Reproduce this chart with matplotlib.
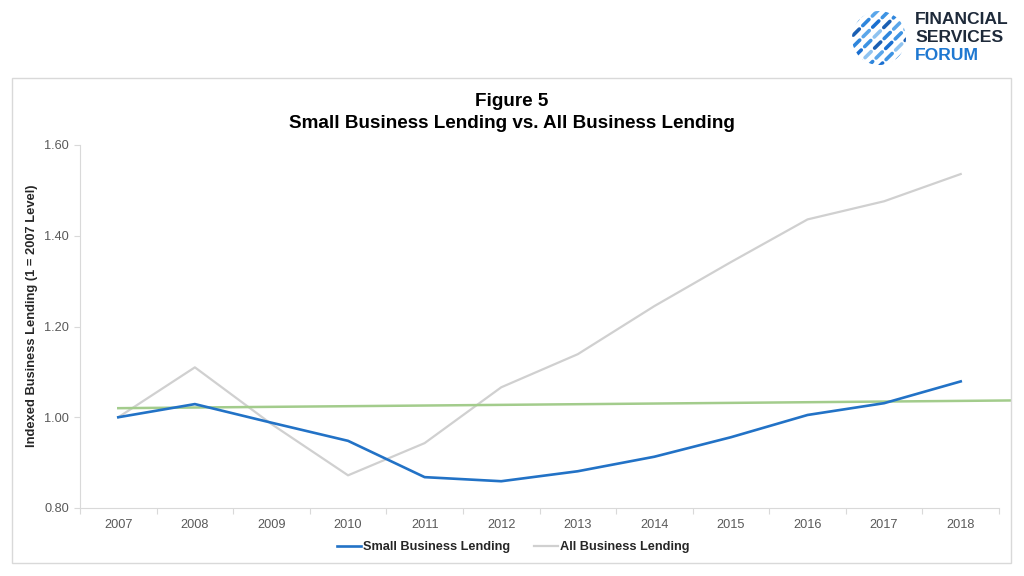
import matplotlib
matplotlib.use("Agg")
import matplotlib.pyplot as plt
from matplotlib.patches import Rectangle, Circle
import numpy as np

plt.rcParams['font.family'] = ['Liberation Sans', 'DejaVu Sans']

years = ["2007", "2008", "2009", "2010", "2011", "2012", "2013", "2014",
         "2015", "2016", "2017", "2018"]
small_business = [1.000, 1.029, 0.988, 0.948, 0.868, 0.859, 0.881, 0.913,
                  0.956, 1.005, 1.031, 1.079]
all_business = [1.000, 1.110, 0.985, 0.872, 0.943, 1.066, 1.139, 1.245,
                1.342, 1.436, 1.476, 1.536]
# linear trendline: start at 2007, forecast beyond 2018
trend_x = [0.0, 11.65]
trend_y = [1.020, 1.037]
y_ticks = [0.80, 1.00, 1.20, 1.40, 1.60]

fig = plt.figure(figsize=(10.24, 5.76), dpi=100)

# outer frame
fig.patches.append(Rectangle((12 / 1024, 1 - 563 / 576), 999 / 1024, 485 / 576,
                             transform=fig.transFigure, fill=False,
                             edgecolor="#d9d9d9", linewidth=1.0))

ax = fig.add_axes([80 / 1024, 1 - 508 / 576, 919 / 1024, 363 / 576])
x = np.arange(len(years))
ax.plot(x, all_business, color="#d0d0d0", lw=1.6, label="All Business Lending", zorder=2)
ax.plot(x, small_business, color="#2272c6", lw=1.9, label="Small Business Lending", zorder=3)
ax.plot(trend_x, trend_y, color="#a3cc8c", lw=1.8, clip_on=False, zorder=2.5)

ax.set_xlim(-0.5, len(years) - 0.5)
ax.set_ylim(0.80, 1.60)
ax.set_yticks(y_ticks)
ax.set_yticklabels([f"{v:.2f}" for v in y_ticks], color="#595959", fontsize=9.2)
ax.set_xticks(x)
ax.set_xticklabels(years, color="#595959", fontsize=9.2)
ax.set_xticks(np.arange(-0.5, len(years)), minor=True)
ax.tick_params(axis="x", which="major", length=0, pad=8)
ax.tick_params(axis="x", which="minor", length=4, color="#d9d9d9", width=0.8)
ax.tick_params(axis="y", length=4, color="#d9d9d9", width=0.8, pad=4)
for s in ["top", "right"]:
    ax.spines[s].set_visible(False)
for s in ["left", "bottom"]:
    ax.spines[s].set_color("#d9d9d9")
    ax.spines[s].set_linewidth(0.8)

fig.text(32 / 1024, 1 - 316 / 576, "Indexed Business Lending (1 = 2007 Level)",
         rotation=90, ha="center", va="center", fontsize=9.3,
         fontweight="bold", color="#262626")

fig.text(0.5, 1 - 101 / 576, "Figure 5", ha="center", va="center",
         fontsize=13.6, fontweight="bold", color="#000000")
fig.text(0.5, 1 - 123 / 576, "Small Business Lending vs. All Business Lending",
         ha="center", va="center", fontsize=13.6, fontweight="bold", color="#000000")

handles, labels = ax.get_legend_handles_labels()
leg = fig.legend(handles[::-1], labels[::-1], loc="center", bbox_to_anchor=(513 / 1024, 1 - 547 / 576),
                 ncol=2, frameon=False, handlelength=1.85, handletextpad=0.15,
                 columnspacing=1.9, prop={"weight": "bold", "size": 9.2})
for t in leg.get_texts():
    t.set_color("#262626")

# logo
lax = fig.add_axes([852 / 1024, 1 - 65 / 576, 54 / 1024, 54 / 576])
lax.set_xlim(-1, 1)
lax.set_ylim(-1, 1)
lax.set_aspect("equal")
lax.axis("off")
clip = Circle((0, 0), 1.0, transform=lax.transData)
shades = ["#1b5fb3", "#2f86dc", "#5aa6ea", "#1a6fd0", "#3d93e3", "#8fc3f0"]
k = 0
for off in np.linspace(-1.35, 1.35, 10):
    for seg in range(7):
        a = -1.6 + seg * 0.5 + (0.22 if k % 2 else 0)
        b = a + 0.32
        px = np.array([a, b]) * 0.707 + off * 0.707
        py = np.array([a, b]) * 0.707 - off * 0.707
        ln, = lax.plot(px, py, color=shades[(k * 2 + seg) % len(shades)], lw=2.6,
                       solid_capstyle="round")
        ln.set_clip_path(clip)
    k += 1

fig.text(915 / 1024, 1 - 19 / 576, "FINANCIAL", fontsize=12.6, fontweight="bold",
         color="#1e2a3a", va="center", ha="left")
fig.text(915 / 1024, 1 - 38 / 576, "SERVICES", fontsize=12.6, fontweight="bold",
         color="#1e2a3a", va="center", ha="left")
fig.text(915 / 1024, 1 - 56 / 576, "FORUM", fontsize=12.6, fontweight="bold",
         color="#1f78d1", va="center", ha="left")

fig.savefig("out.png", dpi=100)
